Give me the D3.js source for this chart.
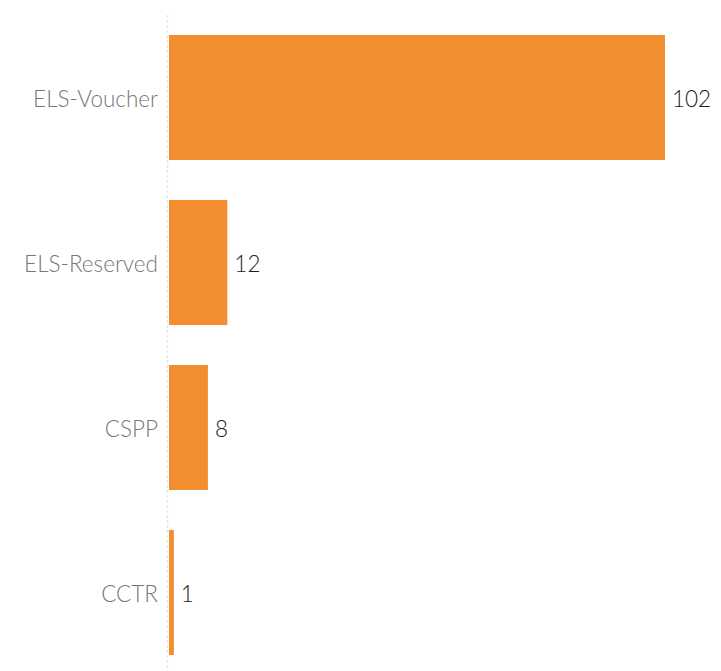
<!DOCTYPE html>
<html>
<head>
<meta charset="utf-8">
<script src="https://cdn.jsdelivr.net/npm/d3@7"></script>
<style>
  html, body { margin: 0; padding: 0; background: #fff; }
  svg { display: block; }
</style>
</head>
<body>
<svg id="chart" width="721" height="671"></svg>
<script>
const categories = ["ELS-Voucher", "ELS-Reserved", "CSPP", "CCTR"];
const values = [102, 12, 8, 1];

const svg = d3.select("#chart");
const W = 721, H = 671;
const x0 = 169;

const x = d3.scaleLinear().domain([0, 102]).range([x0, 665]);
const y = d3.scaleBand().domain(categories).range([15, 675])
  .paddingInner(0.2424).paddingOuter(0.1212);

// baseline
svg.append("line")
  .attr("x1", x0 - 1.5).attr("x2", x0 - 1.5)
  .attr("y1", 15).attr("y2", H)
  .attr("stroke", "#e6e6e6").attr("stroke-width", 1.5)
  .attr("stroke-dasharray", "3,2");

const data = categories.map((c, i) => ({ c, v: values[i] }));

svg.selectAll("rect.bar").data(data).join("rect")
  .attr("class", "bar")
  .attr("x", x(0))
  .attr("y", d => y(d.c))
  .attr("width", d => x(d.v) - x(0))
  .attr("height", y.bandwidth())
  .attr("fill", "#f28e2f");

const yAxis = d3.axisLeft(y).tickSize(0).tickPadding(11);
const g = svg.append("g").attr("transform", `translate(${x0},0)`).call(yAxis);
g.select(".domain").remove();
g.selectAll("text")
  .attr("dy", "0.42em")
  .attr("font-family", "Lato, 'Open Sans', sans-serif")
  .attr("font-size", 22.5)
  .attr("font-weight", 300)
  .attr("fill", "#777");

svg.selectAll("text.val").data(data).join("text")
  .attr("class", "val")
  .attr("x", d => x(d.v) + 7)
  .attr("y", d => y(d.c) + y.bandwidth() / 2)
  .attr("dy", "0.42em")
  .attr("font-family", "Lato, 'Open Sans', sans-serif")
  .attr("font-size", 22.5)
  .attr("font-weight", 300)
  .attr("fill", "#222")
  .text(d => d.v);
</script>
</body>
</html>
